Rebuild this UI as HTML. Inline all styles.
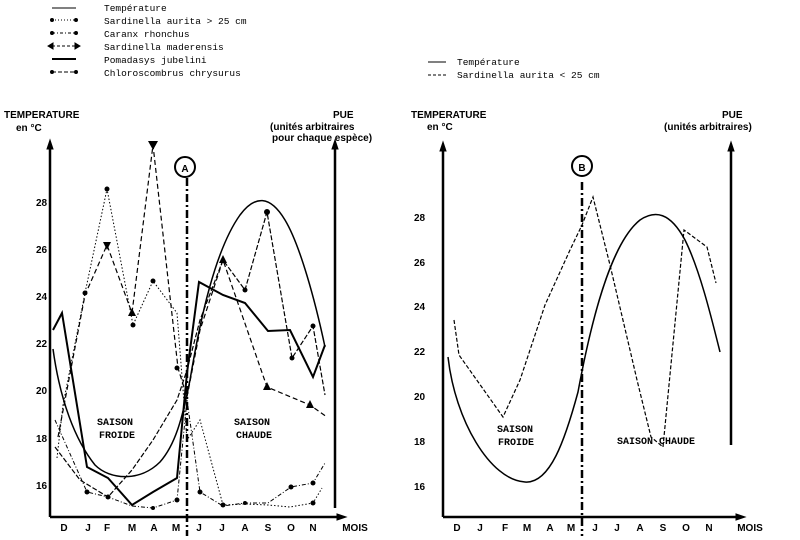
<!DOCTYPE html><html><head><style>body{margin:0;background:#fff}svg{display:block}text{font-family:"Liberation Mono",monospace;fill:#000}.b{font-family:"Liberation Sans",sans-serif;font-weight:bold;font-size:10px}.m{font-size:10px}</style></head><body>
<svg width="800" height="540" viewBox="0 0 800 540" fill="none" stroke="#000">
<g stroke-width="1">
<line x1="52" y1="8" x2="76" y2="8"/><line x1="52" y1="20" x2="76" y2="20" stroke-dasharray="1 2"/><circle cx="52" cy="20" r="1.5" fill="#000"/><circle cx="76" cy="20" r="1.5" fill="#000"/>
<line x1="52" y1="33" x2="76" y2="33" stroke-dasharray="3 2 1 2"/><circle cx="52" cy="33" r="1.5" fill="#000"/><circle cx="76" cy="33" r="1.5" fill="#000"/>
<line x1="52" y1="46" x2="76" y2="46" stroke-dasharray="3 2"/><path d="M48 46l5-3v6zM80 46l-5-3v6z" fill="#000"/>
<line x1="52" y1="59" x2="76" y2="59" stroke-width="2"/>
<line x1="52" y1="72" x2="76" y2="72" stroke-dasharray="4 2"/><circle cx="52" cy="72" r="1.5" fill="#000"/><circle cx="76" cy="72" r="1.5" fill="#000"/>
<line x1="428" y1="62" x2="446" y2="62"/><line x1="428" y1="75" x2="446" y2="75" stroke-dasharray="3 2"/>
</g>
<g stroke="none" font-size="9.5">
<text x="104" y="11">Température</text><text x="104" y="24">Sardinella aurita &gt; 25 cm</text><text x="104" y="37">Caranx rhonchus</text><text x="104" y="50">Sardinella maderensis</text><text x="104" y="63">Pomadasys jubelini</text><text x="104" y="76">Chloroscombrus chrysurus</text>
<text x="457" y="65">Température</text><text x="457" y="78">Sardinella aurita &lt; 25 cm</text>
</g>
<g stroke="none">
<text class="b" x="4" y="118">TEMPERATURE</text><text class="b" x="16" y="131">en °C</text>
<text class="b" x="333" y="118">PUE</text><text class="b" x="270" y="130">(unités arbitraires</text><text class="b" x="272" y="141">pour chaque espèce)</text>
<text class="b" x="411" y="118">TEMPERATURE</text><text class="b" x="427" y="130">en °C</text>
<text class="b" x="722" y="118">PUE</text><text class="b" x="664" y="130">(unités arbitraires)</text>
</g>
<g stroke-width="2.5"><line x1="50" y1="145" x2="50" y2="517"/><line x1="50" y1="517" x2="340" y2="517"/><line x1="335" y1="147" x2="335" y2="508"/></g>
<path d="M50 140l-3 9h6zM335 140l-3 9h6zM346 517l-9-3v6z" fill="#000"/>
<g stroke="none" class="m"><text class="b" x="36" y="206">28</text><text class="b" x="36" y="253">26</text><text class="b" x="36" y="300">24</text><text class="b" x="36" y="347">22</text><text class="b" x="36" y="394">20</text><text class="b" x="36" y="442">18</text><text class="b" x="36" y="489">16</text></g>
<g stroke="none" class="b" text-anchor="middle"><text x="64" y="531" class="b">D</text><text x="88" y="531" class="b">J</text><text x="107" y="531" class="b">F</text><text x="132" y="531" class="b">M</text><text x="154" y="531" class="b">A</text><text x="176" y="531" class="b">M</text><text x="199" y="531" class="b">J</text><text x="222" y="531" class="b">J</text><text x="245" y="531" class="b">A</text><text x="268" y="531" class="b">S</text><text x="291" y="531" class="b">O</text><text x="313" y="531" class="b">N</text><text x="355" y="531" class="b">MOIS</text></g>
<line x1="187" y1="178" x2="187" y2="536" stroke-width="2.5" stroke-dasharray="8 3 2 3"/>
<circle cx="185" cy="167" r="10" stroke-width="2"/><text x="185" y="172" text-anchor="middle" class="b" font-size="14" stroke="none">A</text>
<g stroke="none" class="b"><text x="97" y="425">SAISON</text><text x="99" y="438">FROIDE</text><text x="234" y="425">SAISON</text><text x="236" y="438">CHAUDE</text></g>
<g stroke-width="1.5">
<path d="M53 349C60 400 75 440 95 465C110 480 140 482 160 462C175 445 182 420 190 380C200 320 215 250 240 215C255 195 270 195 285 220C300 245 315 300 325 347"/>
<polyline stroke-width="2" points="53,330 62,313 87,467 108,478 132,505 153,492 177,478 187,373 199,282 223,295 245,303 268,331 290,330 313,377 325,345"/>
<polyline stroke-width="1" stroke-dasharray="1.5 2" points="57,458 63,405 85,293 107,189 133,325 153,281 177,313 187,440 200,420 223,505 245,504 268,505 290,507 313,503 322,488"/>
<polyline stroke-width="1" stroke-dasharray="4 2 1 2" points="55,420 87,492 108,497 132,506 153,508 177,500 187,400 200,492 223,506 245,503 268,503 291,487 313,483 325,463"/>
<polyline stroke-width="1.2" stroke-dasharray="5 3" points="58,437 85,295 107,245 132,313 153,145 178,368 187,397 200,330 223,260 267,387 310,405 327,417"/>
<polyline stroke-width="1.2" stroke-dasharray="5 2" points="55,447 80,480 108,497 132,470 153,440 177,400 187,370 200,320 223,260 245,290 267,212 292,358 313,326 325,395"/>
</g>
<g fill="#000" stroke="none">
<circle cx="107" cy="189" r="2.5"/><circle cx="133" cy="325" r="2.5"/><circle cx="153" cy="281" r="2.5"/><circle cx="85" cy="293" r="2.5"/><circle cx="223" cy="505" r="2.5"/><circle cx="313" cy="503" r="2.5"/>
<circle cx="87" cy="492" r="2.5"/><circle cx="108" cy="497" r="2.5"/><circle cx="177" cy="500" r="2.5"/><circle cx="200" cy="492" r="2.5"/><circle cx="291" cy="487" r="2.5"/><circle cx="313" cy="483" r="2.5"/><circle cx="153" cy="508" r="2"/><circle cx="245" cy="503" r="2"/>
<circle cx="245" cy="290" r="2.5"/><circle cx="267" cy="212" r="3"/><circle cx="292" cy="358" r="2.5"/><circle cx="313" cy="326" r="2.5"/><circle cx="177" cy="368" r="2.5"/>
<path d="M107 250l-4-8h8zM153 150l-5-9h10zM132 308l-4 8h8zM223 255l-4 8h8zM267 382l-4 8h8zM310 400l-4 8h8z"/>
</g>
<g stroke-width="2.5"><line x1="443" y1="147" x2="443" y2="517"/><line x1="443" y1="517" x2="738" y2="517"/><line x1="731" y1="147" x2="731" y2="445"/></g>
<path d="M443 142l-3 9h6zM731 142l-3 9h6zM745 517l-9-3v6z" fill="#000"/>
<g stroke="none"><text class="b" x="414" y="221">28</text><text class="b" x="414" y="266">26</text><text class="b" x="414" y="310">24</text><text class="b" x="414" y="355">22</text><text class="b" x="414" y="400">20</text><text class="b" x="414" y="445">18</text><text class="b" x="414" y="490">16</text></g>
<g stroke="none" text-anchor="middle"><text x="457" y="531" class="b">D</text><text x="480" y="531" class="b">J</text><text x="505" y="531" class="b">F</text><text x="527" y="531" class="b">M</text><text x="550" y="531" class="b">A</text><text x="571" y="531" class="b">M</text><text x="595" y="531" class="b">J</text><text x="617" y="531" class="b">J</text><text x="640" y="531" class="b">A</text><text x="663" y="531" class="b">S</text><text x="686" y="531" class="b">O</text><text x="709" y="531" class="b">N</text><text x="750" y="531" class="b">MOIS</text></g>
<line x1="582" y1="182" x2="582" y2="536" stroke-width="2.5" stroke-dasharray="8 3 2 3"/>
<circle cx="582" cy="166" r="10" stroke-width="2"/><text x="582" y="171" text-anchor="middle" class="b" font-size="14" stroke="none">B</text>
<g stroke="none" class="b"><text x="497" y="432">SAISON</text><text x="498" y="445">FROIDE</text><text x="617" y="444">SAISON CHAUDE</text></g>
<path stroke-width="1.5" d="M448 357C455 420 490 480 525 482C550 484 565 440 578 392C595 300 615 240 640 220C655 210 670 212 685 240C700 270 712 320 720 352"/>
<polyline stroke-width="1.2" stroke-dasharray="4 2" points="454,320 459,355 503,417 520,380 545,305 570,250 582,225 593,197 610,265 630,350 637,380 651,437 663,447 684,230 707,247 716,283"/>
</svg></body></html>
